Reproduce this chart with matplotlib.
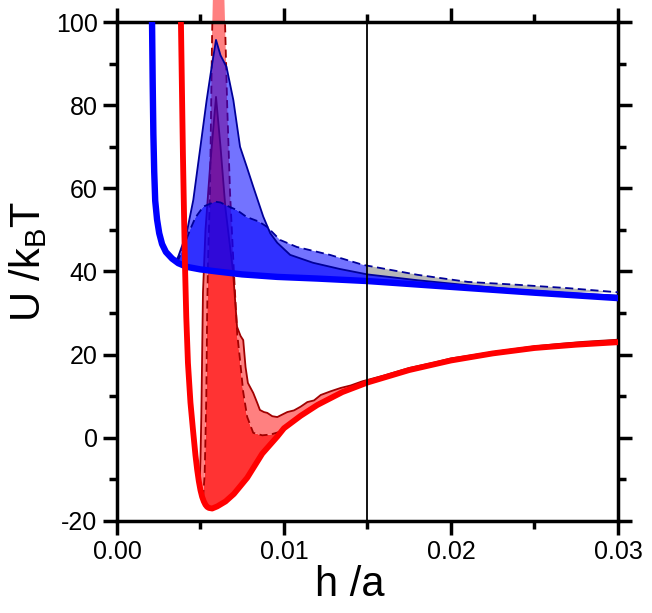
import numpy as np
import matplotlib
matplotlib.use('Agg')
import matplotlib.pyplot as plt
from matplotlib.path import Path
from matplotlib.patches import PathPatch, Rectangle
from matplotlib.ticker import MultipleLocator, FormatStrFormatter

plt.rcParams['font.family'] = ['Liberation Sans', 'DejaVu Sans']
plt.rcParams['mathtext.default'] = 'regular'
plt.rcParams['axes.unicode_minus'] = False

# thick red curve
red_h = [0.0036, 0.00383, 0.00395, 0.00407, 0.00415, 0.00425, 0.0044, 0.00455, 0.0047, 0.0048,
         0.0049, 0.0050, 0.0051, 0.0052, 0.0053, 0.0054, 0.0055, 0.0057, 0.0060, 0.0065,
         0.0070, 0.0078, 0.0087, 0.0096, 0.0100, 0.0110, 0.0120, 0.0135, 0.0150, 0.0175,
         0.0200, 0.0225, 0.0250, 0.0275, 0.0300]
red_u = [140, 100, 68, 42, 29, 18, 8.5, 2, -4.2, -7.6,
         -10.4, -12.6, -14.2, -15.3, -16.1, -16.6, -16.85, -17.0, -16.5, -15.3,
         -13.5, -9.6, -3.8, 0.3, 2.3, 5.3, 7.9, 11.0, 13.3, 16.3,
         18.6, 20.3, 21.6, 22.4, 23.0]

# red dashed curve
rd_h = [0.00515, 0.00525, 0.0053, 0.00535, 0.0054, 0.00545, 0.00557, 0.0057, 0.00585, 0.0061,
        0.0063, 0.00647, 0.0066, 0.00677, 0.0070, 0.0072, 0.00737, 0.00756, 0.0078, 0.00816,
        0.0087, 0.0092, 0.0098, 0.0105, 0.0120, 0.0135, 0.0150, 0.0175, 0.0200, 0.0225,
        0.0250, 0.0275, 0.0300]
rd_u = [-14.5, -9, 0, 10, 30, 42, 59, 98, 125, 135,
        125, 100, 80, 59, 40, 25, 18.7, 11, 5, 1.2,
        0.6, 0.8, 1.5, 3.9, 8.2, 11.3, 13.6, 16.6, 18.9, 20.6,
        21.9, 22.7, 23.3]

# red thin solid curve
rs_h = [0.00495, 0.0050, 0.00505, 0.0051, 0.00515, 0.0053, 0.00557, 0.00593, 0.0062, 0.0065,
        0.00695, 0.00719, 0.0074, 0.00756, 0.0077, 0.00784, 0.00816, 0.0084, 0.00856, 0.0088,
        0.0090, 0.0093, 0.0096, 0.0099, 0.0102, 0.0106, 0.0110, 0.0114, 0.0118, 0.0122,
        0.0128, 0.0134, 0.0140, 0.0147, 0.0160, 0.0175, 0.0190, 0.0200, 0.0215, 0.0230,
        0.0250, 0.0265, 0.0280, 0.0300]
rs_u = [-11.5, -5, 5, 20, 35, 50, 65, 82, 70, 55,
        40, 26.7, 24.5, 23.5, 17, 13.2, 10.8, 8.4, 6.7, 6.2,
        6.0, 5.2, 5.0, 5.6, 6.2, 6.6, 7.5, 8.6, 9.0, 10.3,
        11.2, 12.0, 12.6, 13.6, 15.0, 16.8, 18.1, 19.1, 20.0, 20.9,
        22.0, 22.6, 23.1, 23.6]

# thick blue curve
blue_h = [0.00207, 0.0021, 0.00214, 0.00218, 0.00223, 0.00229, 0.0024, 0.00253, 0.0027, 0.00293,
          0.0033, 0.00367, 0.0042, 0.0050, 0.0060, 0.0075, 0.0096, 0.0120, 0.0150, 0.0200,
          0.0250, 0.0300]
blue_u = [110, 100, 85, 73, 64, 57, 52.5, 49.2, 46.6, 44.7,
          43.1, 42.0, 41.1, 40.5, 40.0, 39.3, 38.7, 38.3, 37.7, 36.3,
          34.9, 33.6]

# blue thin solid curve
bs_h = [0.0035, 0.00367, 0.00417, 0.00457, 0.00497, 0.00537, 0.00567, 0.00593, 0.0062, 0.00656,
        0.00697, 0.00737, 0.00777, 0.00816, 0.00876, 0.00918, 0.0096, 0.01037, 0.01174, 0.01335,
        0.0150, 0.0180, 0.0210, 0.0240, 0.0270, 0.0300]
bs_u = [42.3, 43.6, 49.2, 57.2, 69.2, 81.2, 89.2, 95.7, 92, 89.2,
        81.2, 70, 65.2, 60.4, 53.2, 49.2, 46.9, 44, 42.1, 40.6,
        39.3, 37.9, 36.7, 35.6, 34.8, 34.2]

# blue dashed curve
bd_h = [0.0036, 0.0040, 0.00437, 0.0047, 0.00517, 0.00587, 0.0062, 0.0066, 0.00717, 0.00777,
        0.0085, 0.0090, 0.00976, 0.01077, 0.01275, 0.01473, 0.0180, 0.0210, 0.0240, 0.0270,
        0.0297, 0.0300]
bd_u = [42.1, 46, 50, 53, 55.6, 56.8, 56.6, 55.8, 54.8, 53.1,
        52, 50.7, 47.6, 45.9, 44, 41.6, 39.2, 37.5, 36.8, 36.0,
        35.1, 35.0]

h_cut = 0.015


def poly(h, u, hb, ub):
    # area between a curve and the thick base curve
    h, u, hb, ub = map(np.asarray, (h, u, hb, ub))
    m = (hb > h[0]) & (hb < h[-1])
    return np.column_stack([np.r_[h, hb[m][::-1]], np.r_[u, ub[m][::-1]]])


def make_path(*polys):
    verts, codes = [], []
    for p in polys:
        verts += list(p) + [p[0]]
        codes += [Path.MOVETO] + [Path.LINETO] * (len(p) - 1) + [Path.CLOSEPOLY]
    return Path(verts, codes)


def fills(ax, pa, pb, c_low, a_low, c_high, a_high, z):
    # below both curves
    low = PathPatch(make_path(pa), fc=c_low, ec='none', alpha=a_low, zorder=z)
    ax.add_patch(low)
    low.set_clip_path(PathPatch(make_path(pb), transform=ax.transData))
    # between the two curves (grey past the cut)
    between = make_path(pa, pb[::-1])
    p1 = PathPatch(between, fc=c_high, ec='none', alpha=a_high, zorder=z)
    ax.add_patch(p1)
    p1.set_clip_path(Rectangle((-1, -500), 1 + h_cut, 1000, transform=ax.transData))
    p2 = PathPatch(between, fc='#b8b8b8', ec='none', zorder=z)
    ax.add_patch(p2)
    p2.set_clip_path(Rectangle((h_cut, -500), 1, 1000, transform=ax.transData))


fig = plt.figure(figsize=(6.52, 6.13), dpi=100)
ax = fig.add_axes([0.1794, 0.1501, 0.7684, 0.8140])

fills(ax, poly(rd_h, rd_u, red_h, red_u), poly(rs_h, rs_u, red_h, red_u),
      '#ff3333', 1.0, '#ff8080', 1.0, 1)
ax.plot(rs_h, rs_u, color='#a00000', lw=1.3, zorder=2)
ax.plot(rd_h, rd_u, color='#a00000', lw=1.3, dashes=(4.5, 2.5), zorder=2)

fills(ax, poly(bd_h, bd_u, blue_h, blue_u), poly(bs_h, bs_u, blue_h, blue_u),
      '#0000ff', 0.81, '#0000ff', 0.55, 3)
ax.plot(bs_h, bs_u, color='#000099', lw=1.3, zorder=4)
ax.plot(bd_h, bd_u, color='#000099', lw=1.3, dashes=(4.5, 2.5), zorder=4)

ax.plot(blue_h, blue_u, color='#0000ff', lw=4.6, zorder=5, solid_joinstyle='round')
ax.plot(red_h, red_u, color='#ff0000', lw=4.2, zorder=6, solid_joinstyle='round')
ax.axvline(h_cut, color='black', lw=1.3, zorder=7)

ax.set_xlim(0, 0.03)
ax.set_ylim(-20, 100)
ax.xaxis.set_major_locator(MultipleLocator(0.01))
ax.xaxis.set_minor_locator(MultipleLocator(0.005))
ax.yaxis.set_major_locator(MultipleLocator(20))
ax.yaxis.set_minor_locator(MultipleLocator(10))
ax.xaxis.set_major_formatter(FormatStrFormatter('%.2f'))
ax.tick_params(which='both', direction='out', top=True, right=True, width=2.5, labelsize=18)
ax.tick_params(which='major', length=10, pad=4)
ax.tick_params(which='minor', length=5.5)
for s in ax.spines.values():
    s.set_linewidth(2.5)

ax.set_xlabel('h /a', fontsize=30)
ax.set_ylabel('U /k$_B$T', fontsize=30)
ax.xaxis.set_label_coords(0.465, -0.088)
ax.yaxis.set_label_coords(-0.135, 0.52)

fig.savefig('out.png', dpi=100)
